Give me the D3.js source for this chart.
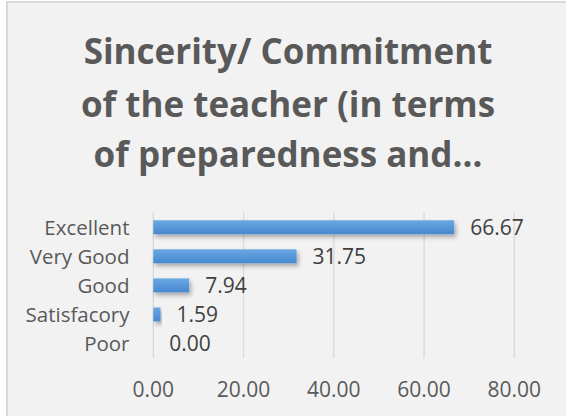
<!DOCTYPE html>
<html>
<head>
<meta charset="utf-8">
<script src="https://cdn.jsdelivr.net/npm/d3@7"></script>
<style>
  body { margin: 0; background: #fff; }
  svg { display: block; font-family: "Open Sans", sans-serif; }
</style>
</head>
<body>
<div id="chart"></div>
<script>
// chart data
const categories = ["Excellent", "Very Good", "Good", "Satisfacory", "Poor"];
const values = [66.67, 31.75, 7.94, 1.59, 0.00];
const ticks = [0, 20, 40, 60, 80];
const titleLines = ["Sincerity/ Commitment", "of the teacher (in terms", "of preparedness and…"];

const width = 566, height = 416;
const margin = ({ top: 212.7, right: 51.7, bottom: 58, left: 153.3 });

const svg = d3.select("#chart")
    .append("svg")
    .attr("width", width)
    .attr("height", height);

// background panel, border only visible on left/top (runs off the image)
svg.append("rect")
    .attr("x", 7).attr("y", 2)
    .attr("width", width + 10).attr("height", height + 10)
    .attr("fill", "#f2f2f2")
    .attr("stroke", "#d9d9d9")
    .attr("stroke-width", 2);

// gradient + shadow for bars
const defs = svg.append("defs");
const grad = defs.append("linearGradient")
    .attr("id", "barGrad").attr("x1", 0).attr("y1", 0).attr("x2", 0).attr("y2", 1);
grad.append("stop").attr("offset", "0%").attr("stop-color", "#6aa8e2");
grad.append("stop").attr("offset", "100%").attr("stop-color", "#4688d0");
const shadow = defs.append("filter").attr("id", "shadow")
    .attr("x", "-10%").attr("y", "-30%").attr("width", "130%").attr("height", "190%");
shadow.append("feDropShadow")
    .attr("dx", 2).attr("dy", 3).attr("stdDeviation", 2)
    .attr("flood-color", "#000").attr("flood-opacity", 0.3);

// title
svg.append("g")
    .selectAll("text")
    .data(titleLines)
    .join("text")
    .attr("x", 288)
    .attr("y", (d, i) => [63.5, 116.5, 167][i])
    .attr("text-anchor", "middle")
    .attr("font-size", 35)
    .attr("font-weight", "bold")
    .attr("fill", "#595959")
    .text(d => d);

let x = d3.scaleLinear()
    .domain([0, 80])
    .range([margin.left, width - margin.right]);

let y = d3.scaleBand()
    .domain(categories)
    .range([margin.top, height - margin.bottom])
    .paddingInner(0.52)
    .paddingOuter(0.26);

// gridlines
svg.append("g")
    .selectAll("line")
    .data(ticks)
    .join("line")
    .attr("x1", d => x(d)).attr("x2", d => x(d))
    .attr("y1", margin.top).attr("y2", height - margin.bottom)
    .attr("stroke", "#d9d9d9")
    .attr("stroke-width", 1.3);

// x tick labels
svg.append("g")
    .selectAll("text")
    .data(ticks)
    .join("text")
    .attr("x", d => x(d))
    .attr("y", 397.3)
    .attr("text-anchor", "middle")
    .attr("font-size", 21)
    .attr("fill", "#595959")
    .text(d => d3.format(".2f")(d));

// category labels
svg.append("g")
    .selectAll("text")
    .data(categories)
    .join("text")
    .attr("x", 129.5)
    .attr("y", d => y(d) + y.bandwidth() / 2)
    .attr("dy", "0.36em")
    .attr("text-anchor", "end")
    .attr("font-size", 20.5)
    .attr("fill", "#595959")
    .text(d => d);

// bars
svg.append("g")
    .selectAll("rect")
    .data(values)
    .join("rect")
    .attr("x", x(0))
    .attr("y", (d, i) => y(categories[i]))
    .attr("width", d => x(d) - x(0))
    .attr("height", y.bandwidth())
    .attr("fill", "url(#barGrad)")
    .attr("filter", d => d > 0 ? "url(#shadow)" : null);

// data labels
svg.append("g")
    .selectAll("text")
    .data(values)
    .join("text")
    .attr("x", d => x(d) + 16)
    .attr("y", (d, i) => y(categories[i]) + y.bandwidth() / 2)
    .attr("dy", "0.36em")
    .attr("font-size", 21)
    .attr("fill", "#404040")
    .text(d => d3.format(".2f")(d));
</script>
</body>
</html>
